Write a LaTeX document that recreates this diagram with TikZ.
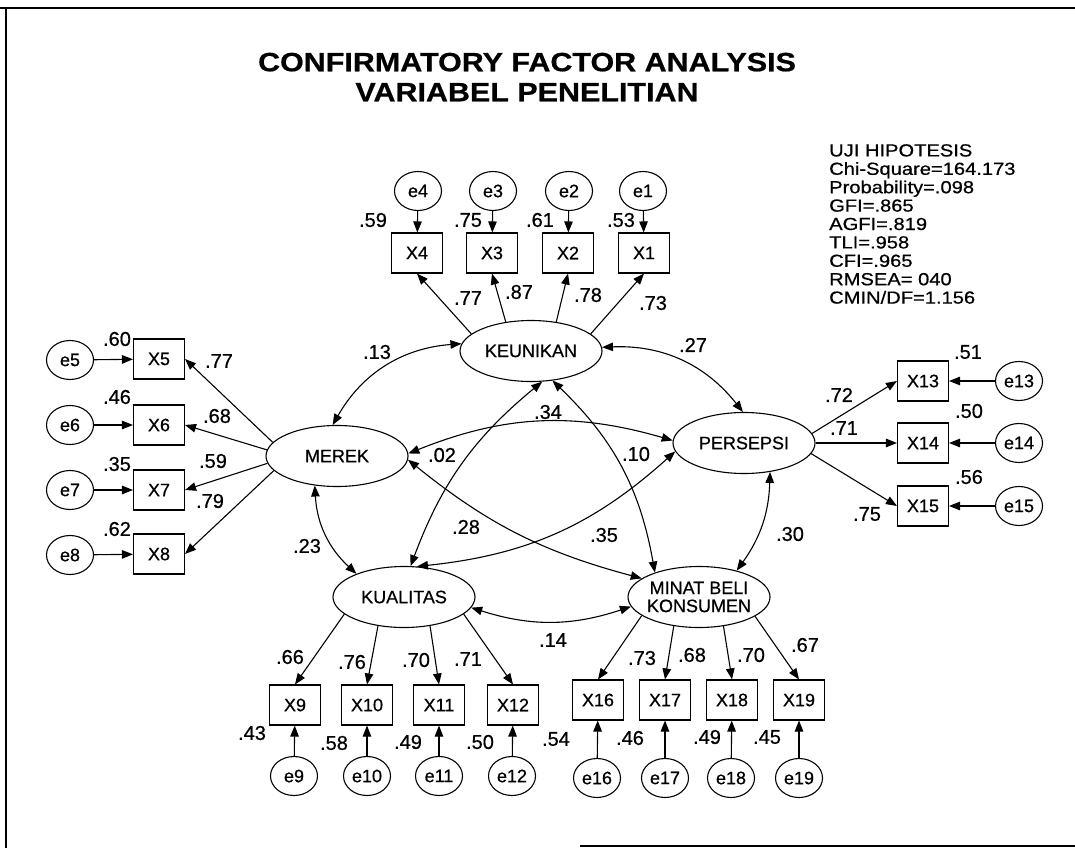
\documentclass[tikz,border=0pt]{standalone}
\usepackage{fontspec}
\setmainfont[FakeBold=0.6]{Liberation Sans}
\newfontfamily\widefont[FakeStretch=1.15,FakeBold=0.6]{Liberation Sans}
\usetikzlibrary{shapes.geometric,arrows.meta}

\begin{document}
\begin{tikzpicture}[x=1pt,y=-1pt,
  lat/.style={ellipse,draw,line width=1.1pt,minimum width=142pt,minimum height=61pt,inner sep=0pt,
    font=\fontsize{18}{18}\selectfont,align=center},
  err/.style={ellipse,draw,line width=1.1pt,minimum width=47pt,minimum height=39pt,inner sep=0pt,
    font=\fontsize{18}{18}\selectfont},
  obs/.style={rectangle,draw,line width=1.1pt,minimum width=51pt,minimum height=40pt,inner sep=0pt,
    font=\fontsize{18}{18}\selectfont},
  coef/.style={inner sep=0pt,font=\fontsize{20}{20}\selectfont},
  load/.style={line width=1.1pt,-{Triangle[length=11pt,width=8.5pt]}},
  covar/.style={line width=1.1pt,{Triangle[length=11pt,width=8.5pt]}-{Triangle[length=11pt,width=8.5pt]}}
]
\useasboundingbox (0,0) rectangle (1075,848);
\fill[white] (0,0) rectangle (1075,848);

% frame
\draw[line width=2pt] (0,8) -- (1075,8);
\draw[line width=2pt] (6,8) -- (6,848);
\draw[line width=2pt] (580,846) -- (1075,846);

% title
\node[align=center,inner sep=0pt,font=\widefont\bfseries\fontsize{26.5}{30}\selectfont] (title) at (527,77)
  {CONFIRMATORY FACTOR ANALYSIS\\VARIABEL PENELITIAN};

% fit indices
\node[anchor=north west,align=left,inner sep=0pt,font=\widefont\fontsize{17.5}{18.4}\selectfont] (fit) at (829,144)
  {UJI HIPOTESIS\\Chi-Square=164.173\\Probability=.098\\GFI=.865\\AGFI=.819\\TLI=.958\\CFI=.965\\RMSEA= 040\\CMIN/DF=1.156};

% latent variables
\node[lat] (KEU) at (531,351) {KEUNIKAN};
\node[lat] (MER) at (337,456) {MEREK};
\node[lat] (PER) at (744,443) {PERSEPSI};
\node[lat] (KUA) at (404,597) {KUALITAS};
\node[lat,inner xsep=-4pt] (MIN) at (699,597) {MINAT BELI\\KONSUMEN};

% observed indicators
\node[obs] (X4) at (417,253) {X4};
\node[obs] (X3) at (492,253) {X3};
\node[obs] (X2) at (568,253) {X2};
\node[obs] (X1) at (644,253) {X1};
\node[obs] (X5) at (159,359) {X5};
\node[obs] (X6) at (159,425) {X6};
\node[obs] (X7) at (159,490) {X7};
\node[obs] (X8) at (159,554) {X8};
\node[obs] (X13) at (923,381) {X13};
\node[obs] (X14) at (923,443) {X14};
\node[obs] (X15) at (923,506) {X15};
\node[obs] (X9) at (295,705) {X9};
\node[obs] (X10) at (367,705) {X10};
\node[obs] (X11) at (439,705) {X11};
\node[obs] (X12) at (513,705) {X12};
\node[obs] (X16) at (598,700) {X16};
\node[obs] (X17) at (665,700) {X17};
\node[obs] (X18) at (732,700) {X18};
\node[obs] (X19) at (799,700) {X19};

% error terms
\node[err] (e4) at (418,191) {e4};
\node[err] (e3) at (493,191) {e3};
\node[err] (e2) at (569,191) {e2};
\node[err] (e1) at (643,191) {e1};
\node[err] (e5) at (70,360) {e5};
\node[err] (e6) at (70,425) {e6};
\node[err] (e7) at (70,490) {e7};
\node[err] (e8) at (70,555) {e8};
\node[err] (e13) at (1019,381) {e13};
\node[err] (e14) at (1019,443) {e14};
\node[err] (e15) at (1019,506) {e15};
\node[err] (e9) at (294,776) {e9};
\node[err] (e10) at (367,776) {e10};
\node[err] (e11) at (439,776) {e11};
\node[err] (e12) at (512,776) {e12};
\node[err] (e16) at (597,778) {e16};
\node[err] (e17) at (665,778) {e17};
\node[err] (e18) at (731,778) {e18};
\node[err] (e19) at (799,778) {e19};

% error paths
\foreach \e/\x in {e1/X1,e2/X2,e3/X3,e4/X4,e5/X5,e6/X6,e7/X7,e8/X8,e9/X9,e10/X10,e11/X11,e12/X12,
                   e13/X13,e14/X14,e15/X15,e16/X16,e17/X17,e18/X18,e19/X19}
  \draw[load] (\e) -- (\x);

% factor loadings
\draw[load] (KEU.164) -- (X4.south);
\draw[load] (KEU.131) -- (X3.south);
\draw[load] (KEU.49) -- (X2.south);
\draw[load] (KEU.16) -- (X1.south);
\draw[load] (MER.168) -- (X5.east);
\draw[load] (MER.175) -- (X6.east);
\draw[load] (MER.186) -- (X7.east);
\draw[load] (MER.193) -- (X8.east);
\draw[load] (PER.8) -- (X13.west);
\draw[load] (PER.0) -- (X14.west);
\draw[load] (PER.351) -- (X15.west);
\draw[load] (KUA.196) -- (X9.north);
\draw[load] (KUA.228) -- (X10.north);
\draw[load] (KUA.312) -- (X11.north);
\draw[load] (KUA.344) -- (X12.north);
\draw[load] (MIN.198) -- (X16.north);
\draw[load] (MIN.229) -- (X17.north);
\draw[load] (MIN.310) -- (X18.north);
\draw[load] (MIN.341) -- (X19.north);

% covariances
\draw[covar] (MER.98) to[bend left=28] (KEU.174);
\draw[covar] (KEU.3) to[bend left=27] (PER.92);
\draw[covar] (MER.2) to[bend left=19] (PER.178);
\draw[covar] (KEU.290) to[bend right=15] (KUA.78);
\draw[covar] (KEU.306) to[bend left=18] (MIN.151);
\draw[covar] (MER.357) to[bend right=12] (MIN.162);
\draw[covar] (KUA.67) to[bend right=18] (PER.187);
\draw[covar] (MER.233) to[bend right=22] (KUA.154);
\draw[covar] (PER.312) to[bend left=17] (MIN.35);
\draw[covar] (KUA.351) to[bend right=18] (MIN.188);

% squared multiple correlations
\node[coef] (r4) at (373,220) {.59};
\node[coef] (r3) at (468,220) {.75};
\node[coef] (r2) at (540,220) {.61};
\node[coef] (r1) at (621,220) {.53};
\node[coef] (r5) at (117,339) {.60};
\node[coef] (r6) at (117,397) {.46};
\node[coef] (r7) at (117,464) {.35};
\node[coef] (r8) at (117,529) {.62};
\node[coef] (r13) at (968,352) {.51};
\node[coef] (r14) at (969,411) {.50};
\node[coef] (r15) at (969,477) {.56};
\node[coef] (r9) at (252,733) {.43};
\node[coef] (r10) at (334,743) {.58};
\node[coef] (r11) at (408,742) {.49};
\node[coef] (r12) at (480,742) {.50};
\node[coef] (r16) at (556,739) {.54};
\node[coef] (r17) at (630,738) {.46};
\node[coef] (r18) at (707,737) {.49};
\node[coef] (r19) at (767,737) {.45};

% loading estimates
\node[coef] (l4) at (468,298) {.77};
\node[coef] (l3) at (519,292) {.87};
\node[coef] (l2) at (588,295) {.78};
\node[coef] (l1) at (653,303) {.73};
\node[coef] (l5) at (219,361) {.77};
\node[coef] (l6) at (217,416) {.68};
\node[coef] (l7) at (213,461) {.59};
\node[coef] (l8) at (210,501) {.79};
\node[coef] (l13) at (839,395) {.72};
\node[coef] (l14) at (844,428) {.71};
\node[coef] (l15) at (867,514) {.75};
\node[coef] (l9) at (290,657) {.66};
\node[coef] (l10) at (352,662) {.76};
\node[coef] (l11) at (416,660) {.70};
\node[coef] (l12) at (468,659) {.71};
\node[coef] (l16) at (642,658) {.73};
\node[coef] (l17) at (692,655) {.68};
\node[coef] (l18) at (751,655) {.70};
\node[coef] (l19) at (805,645) {.67};

% correlation estimates
\node[coef] (c1) at (377,352) {.13};
\node[coef] (c2) at (693,345) {.27};
\node[coef] (c3) at (548,412) {.34};
\node[coef] (c4) at (442,455) {.02};
\node[coef] (c5) at (636,454) {.10};
\node[coef] (c6) at (466,527) {.28};
\node[coef] (c7) at (604,535) {.35};
\node[coef] (c8) at (307,546) {.23};
\node[coef] (c9) at (790,534) {.30};
\node[coef] (c10) at (553,640) {.14};
\end{tikzpicture}
\end{document}
